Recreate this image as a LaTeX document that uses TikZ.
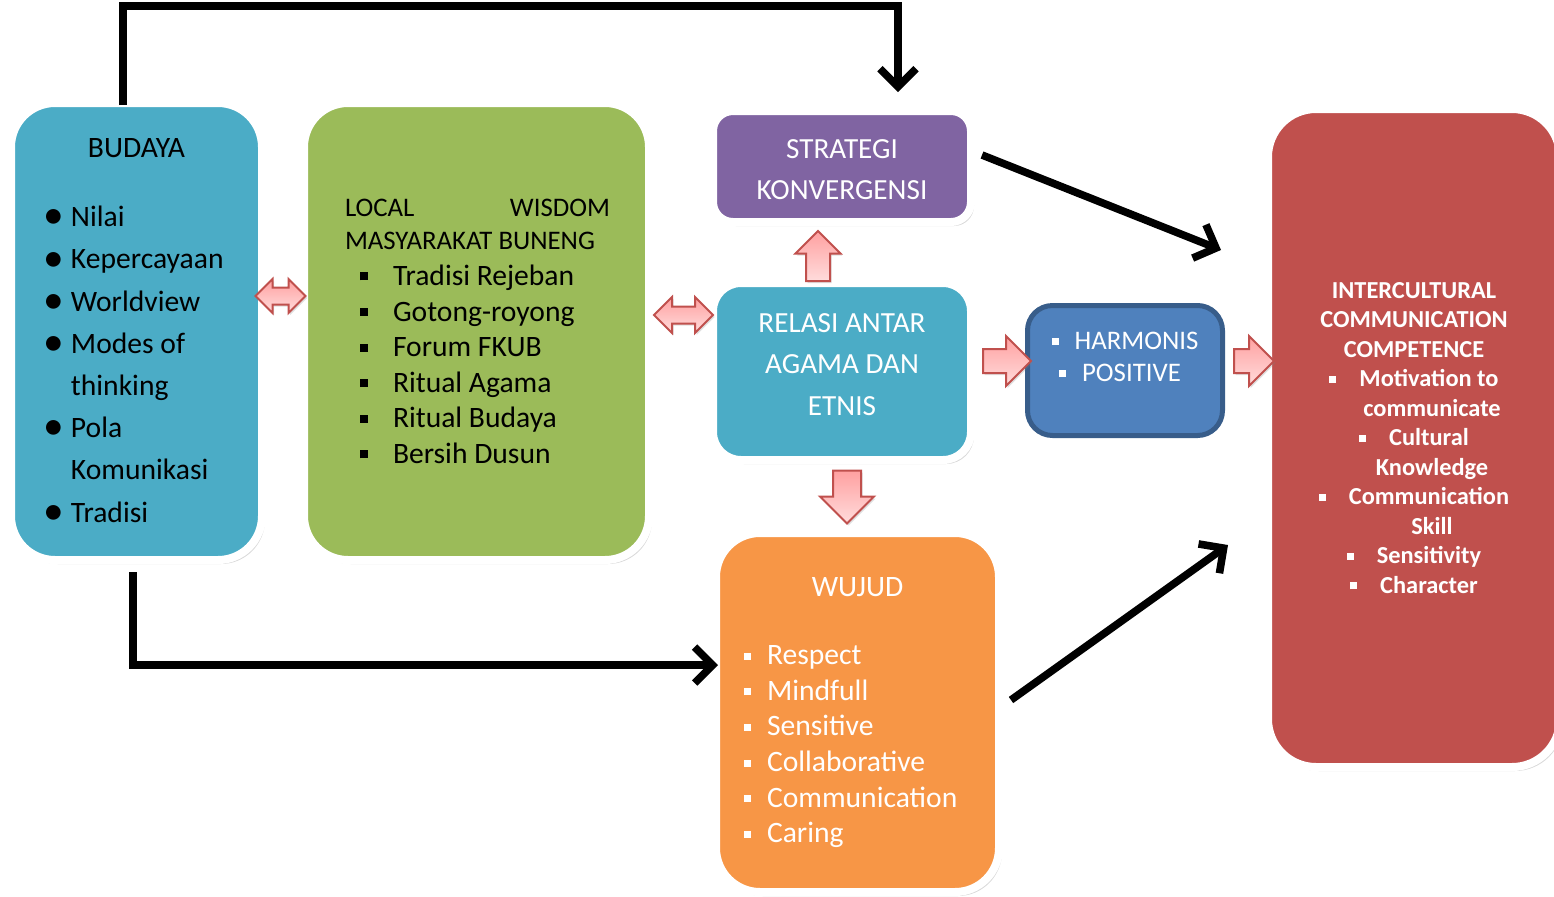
\documentclass[tikz,border=0pt]{standalone}
\usepackage{fontspec}
\setmainfont{Carlito}
\usetikzlibrary{shadows,arrows.meta,shapes.arrows,calc}
\definecolor{budayablue}{HTML}{4BACC6}
\definecolor{wisdomgreen}{HTML}{9BBB59}
\definecolor{strategipurple}{HTML}{8064A2}
\definecolor{harmonisblue}{HTML}{4F81BD}
\definecolor{harmonisedge}{HTML}{385D8A}
\definecolor{wujudorange}{HTML}{F79646}
\definecolor{icred}{HTML}{C0504D}
\definecolor{pinkedge}{HTML}{C0504D}
\definecolor{pinktop}{HTML}{FFA0A0}
\definecolor{pinkbottom}{HTML}{FFDCDC}
\newcommand{\sqb}[1][4pt]{\rule[0.17em]{#1}{#1}}
\newcommand{\dotb}{\hspace*{14pt}\makebox[14pt][l]{\raisebox{-0.08em}{\scalebox{1.4}{\textbullet}}}}
\newcommand{\dotin}{\hspace*{28pt}}
\newcommand{\sqi}{\hspace*{26pt}\makebox[16.5pt][l]{\sqb}}
\newcommand{\sqw}{\hspace*{12pt}\makebox[11.5pt][l]{\sqb[3.5pt]}}
\newcommand{\sqr}{\makebox[15pt][l]{\sqb[3.5pt]}}
\tikzset{
  box/.style={draw=white,line width=4pt,rounded corners=22pt,inner sep=0pt,
    drop shadow={shadow xshift=1.5pt,shadow yshift=-2pt,opacity=0.3}},
  flow/.style={line width=3.8pt,-{Straight Barb[length=9pt,width=18pt]}},
  pink/.style={draw=pinkedge,line width=1pt,top color=pinktop,bottom color=pinkbottom,inner sep=0pt,text depth=0pt,
    drop shadow={shadow xshift=0.8pt,shadow yshift=-1pt,opacity=0.25}},
}
\begin{document}
\begin{tikzpicture}[x=0.5pt,y=-0.5pt]
\useasboundingbox (0,0) rectangle (1554,896);
%% boxes
\node[box,fill=budayablue,minimum width=125.5pt,minimum height=228.5pt] (budaya) at (136.5,331.5)
{\parbox{121.5pt}{\fontsize{14.8}{21.1}\selectfont\centering BUDAYA\par\vspace{13.4pt}\raggedright
\dotb Nilai\\ \dotb Kepercayaan\\ \dotb Worldview\\ \dotb Modes of\\ \dotin thinking\\
\dotb Pola\\ \dotin Komunikasi\\ \dotb Tradisi}};
\node[box,fill=wisdomgreen,minimum width=172.5pt,minimum height=228.5pt] (wisdom) at (476.5,331.5)
{\parbox{168.5pt}{\raggedright\fontsize{13.4}{16.5}\selectfont
\hspace*{18.5pt}\makebox[132.5pt][s]{LOCAL\hfill WISDOM}\\
\hspace*{18.5pt}MASYARAKAT BUNENG\par
\fontsize{14.8}{17.8}\selectfont
\sqi Tradisi Rejeban\\ \sqi Gotong-royong\\ \sqi Forum FKUB\\ \sqi Ritual Agama\\
\sqi Ritual Budaya\\ \sqi Bersih Dusun}};
\node[box,fill=strategipurple,text=white,rounded corners=10pt,minimum width=129pt,minimum height=55.5pt] (strategi) at (842,166.5)
{\parbox{125pt}{\centering\fontsize{14.6}{20.5}\selectfont\vspace*{3pt}STRATEGI\\KONVERGENSI}};
\node[box,fill=budayablue,text=white,rounded corners=14pt,minimum width=129pt,minimum height=88.5pt] (relasi) at (842,371.5)
{\parbox{125pt}{\centering\fontsize{14.6}{20.75}\selectfont RELASI ANTAR\\AGAMA DAN\\ETNIS\par\vspace*{7pt}}};
\node[fill=harmonisblue,draw=harmonisedge,line width=2.5pt,rounded corners=12.5pt,text=white,inner sep=0pt,
  minimum width=97.5pt,minimum height=65pt] (harmonis) at (1125,370.5)
{\parbox{95pt}{\centering\fontsize{13.4}{16}\selectfont
\sqb[3.5pt]\hspace{8pt}HARMONIS\hspace*{5pt}\\ \sqb[3.5pt]\hspace{8pt}POSITIVE\hspace*{5pt}\par\vspace*{13.5pt}}};
\node[box,fill=wujudorange,text=white,minimum width=141.5pt,minimum height=179.5pt] (wujud) at (857.5,712.5)
{\parbox{137.5pt}{\fontsize{14.8}{17.8}\selectfont
{\centering WUJUD\par}\vspace{16.5pt}\raggedright
\sqw Respect\\ \sqw Mindfull\\ \sqw Sensitive\\ \sqw Collaborative\\ \sqw Communication\\ \sqw Caring}};
\node[box,fill=icred,text=white,rounded corners=24pt,minimum width=146pt,minimum height=329pt] (ic) at (1414,438)
{\parbox{142pt}{\centering\bfseries\fontsize{12.2}{14.75}\selectfont
INTERCULTURAL\\ COMMUNICATION\\ COMPETENCE\\
\sqr Motivation to\\ \hspace*{18pt}communicate\\ \sqr Cultural\\ \hspace*{18pt}Knowledge\\
\sqr Communication\\ \hspace*{18pt}Skill\\ \sqr Sensitivity\\ \sqr Character}};
%% block arrows
\node[pink,double arrow,text height=7.5pt,minimum height=25pt,double arrow head extend=4.25pt] (a1) at (280.5,296) {};
\node[pink,double arrow,text height=7.5pt,minimum height=29.5pt,double arrow head extend=4.75pt] (a2) at (683.5,315) {};
\node[pink,single arrow,shape border rotate=90,text height=0pt,text width=11pt,minimum height=25pt,single arrow head extend=5.25pt] (a3) at (818,262) {};
\node[pink,single arrow,shape border rotate=270,text height=0pt,text width=13pt,minimum height=26.5pt,single arrow head extend=6.5pt] (a4) at (847,490) {};
\node[pink,single arrow,text height=11pt,minimum height=24pt,single arrow head extend=6.5pt] (a5) at (1001,361) {};
\node[pink,single arrow,text height=11pt,minimum height=20pt,single arrow head extend=6.5pt] (a6) at (1248,361) {};
%% connectors
\draw[flow] ($(budaya.north)+(-13.5,6)$) -- ++(0,-99) -| ($(strategi.north)+(56,-15)$);
\draw[flow] ($(budaya.south)+(-3.5,8)$) |- ($(wujud.west)+(6,-47.5)$);
\draw[flow] ($(strategi.east)+(7,-11.5)$) -- ($(ic.west)+(-43,-188)$);
\draw[flow] ($(wujud.east)+(8,-12.5)$) -- ($(ic.west)+(-36,107)$);
\end{tikzpicture}
\end{document}
